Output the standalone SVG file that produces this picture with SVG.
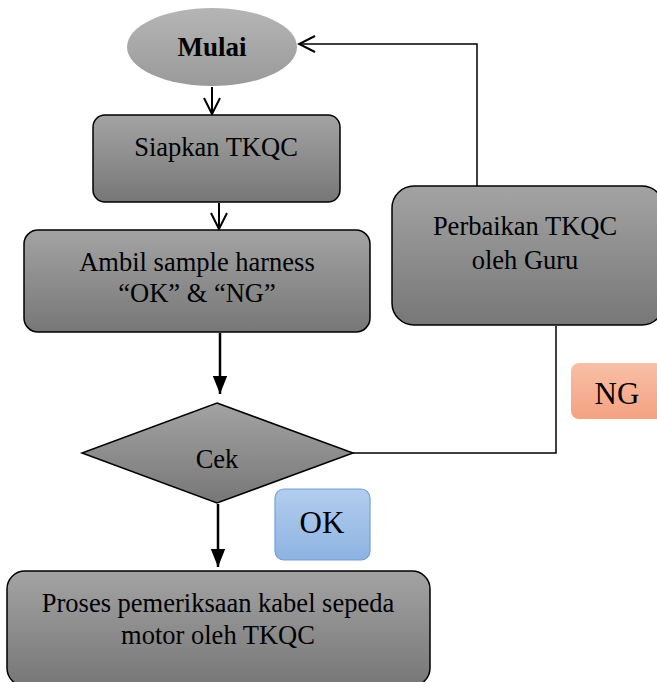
<svg xmlns="http://www.w3.org/2000/svg" width="657" height="682" viewBox="0 0 657 682">
<defs>
<linearGradient id="gray" x1="0" y1="0" x2="0" y2="1"><stop offset="0" stop-color="#a3a3a3"/><stop offset="1" stop-color="#777777"/></linearGradient>
<linearGradient id="ell" x1="0" y1="0" x2="0" y2="1"><stop offset="0" stop-color="#b5b5b5"/><stop offset="1" stop-color="#9a9a9a"/></linearGradient>
<linearGradient id="blue" x1="0" y1="0" x2="0" y2="1"><stop offset="0" stop-color="#b3cdee"/><stop offset="1" stop-color="#8db3e2"/></linearGradient>
<linearGradient id="salmon" x1="0" y1="0" x2="0" y2="1"><stop offset="0" stop-color="#f8bfa6"/><stop offset="1" stop-color="#f4a282"/></linearGradient>
<marker id="open" viewBox="0 0 20 20" refX="18" refY="10" markerWidth="20" markerHeight="20" markerUnits="userSpaceOnUse" orient="auto">
<path d="M2,2 L18,10 L2,18" fill="none" stroke="#000" stroke-width="2"/>
</marker>
<marker id="filled" viewBox="0 0 20 20" refX="20" refY="10" markerWidth="20" markerHeight="18" markerUnits="userSpaceOnUse" orient="auto">
<path d="M0,2 L20,10 L0,18 Z" fill="#000"/>
</marker>
</defs>
<style>
.box{fill:url(#gray);stroke:#000;stroke-width:1.5}
.t{font-family:"Liberation Serif","Times New Roman",serif;font-size:26.5px;fill:#000;text-anchor:middle}
.b{font-weight:bold;font-size:27px}
.lab{font-size:31px}
.c{fill:none;stroke:#000}
</style>
<g id="connectors">
<line class="c" x1="212" y1="87" x2="212" y2="114" stroke-width="2" marker-end="url(#open)"/>
<line class="c" x1="219" y1="203" x2="219" y2="229" stroke-width="2" marker-end="url(#open)"/>
<line class="c" x1="220" y1="333" x2="220" y2="394" stroke-width="2.5" marker-end="url(#filled)"/>
<line class="c" x1="218" y1="504" x2="218" y2="567" stroke-width="2.5" marker-end="url(#filled)"/>
<polyline class="c" points="353,453 556,453 556,326" stroke-width="1.5"/>
<polyline class="c" points="477,186 477,44 299,44" stroke-width="1.5" marker-end="url(#open)"/>
</g>
<g id="mulai">
<ellipse cx="212" cy="47" rx="85" ry="39" fill="url(#ell)"/>
<text class="t b" x="212" y="56">Mulai</text>
</g>
<g id="siapkan">
<rect class="box" x="93" y="115" width="247" height="87" rx="12"/>
<text class="t" x="216" y="156">Siapkan TKQC</text>
</g>
<g id="ambil">
<rect class="box" x="24" y="230" width="346" height="102" rx="14"/>
<text class="t" x="197" y="271">Ambil sample harness</text>
<text class="t" x="197" y="302">“OK” &amp; “NG”</text>
</g>
<g id="cek">
<polygon class="box" points="217,403 353,453 217,503 82,453"/>
<text class="t" x="217" y="468">Cek</text>
</g>
<g id="perbaikan">
<rect class="box" x="392" y="186" width="272" height="139" rx="22"/>
<text class="t" x="525" y="235">Perbaikan TKQC</text>
<text class="t" x="525" y="269">oleh Guru</text>
</g>
<g id="ng">
<rect x="571" y="363" width="95" height="56" rx="8" fill="url(#salmon)"/>
<text class="t lab" x="617" y="404">NG</text>
</g>
<g id="ok">
<rect x="275" y="489" width="95" height="71" rx="9" fill="url(#blue)" stroke="#6fa2d9" stroke-width="1.2"/>
<text class="t lab" x="322" y="533">OK</text>
</g>
<g id="proses">
<rect class="box" x="7" y="571" width="423" height="115" rx="18"/>
<text class="t" x="218" y="612">Proses pemeriksaan kabel sepeda</text>
<text class="t" x="218" y="644">motor oleh TKQC</text>
</g>
</svg>
